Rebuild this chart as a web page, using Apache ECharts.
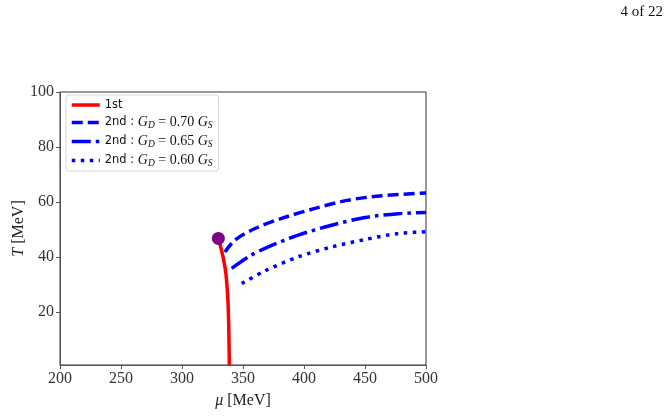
<!DOCTYPE html>
<html>
<head>
<meta charset="utf-8">
<script src="https://cdn.jsdelivr.net/npm/echarts@6/dist/echarts.min.js"></script>
<style>
  html, body { margin: 0; padding: 0; background: #fff; }
  #main { width: 671px; height: 417px; }
</style>
</head>
<body>
<div id="main"></div>
<script>
// 1st order line (mu, T)
var firstMu = [329.8, 331.5, 333.9, 336.1, 337.7, 338.3, 338.6, 338.8];
var firstT  = [46.8, 44.0, 39.5, 33.5, 23.7, 15.0, 7.0, 0.8];

// 2nd order lines
var mu070 = [335.2, 343.4, 359.8, 381.7, 409.0, 436.3, 463.7, 500.0];
var t070  = [41.9, 46.2, 50.4, 54.1, 57.7, 60.7, 62.3, 63.3];
var mu065 = [340.7, 354.4, 368.0, 395.3, 422.7, 450.0, 477.3, 500.0];
var t065  = [35.9, 40.1, 43.2, 48.0, 51.6, 54.4, 55.8, 56.2];
var mu060 = [348.9, 368.0, 395.3, 422.7, 450.0, 477.3, 500.0];
var t060  = [30.4, 35.0, 40.1, 43.7, 46.4, 48.6, 49.2];

// critical end point
var cepMu = 329.8;
var cepT = 46.8;

var xTicks = [200, 250, 300, 350, 400, 450, 500];
var yTicks = [20, 40, 60, 80, 100];

var names = ['1st', '2nd : GD = 0.70 GS', '2nd : GD = 0.65 GS', '2nd : GD = 0.60 GS'];
var ratios = [null, '0.70', '0.65', '0.60'];

function pairs(xs, ys) {
    return xs.map(function (x, i) { return [x, ys[i]]; });
}

var serif = 'Liberation Serif';
var myEcharts = echarts.init(document.getElementById('main'));

var option = {
    animation: false,
    grid: {
        left: 60, right: 245, top: 92, bottom: 52,
        outerBoundsMode: 'none', containLabel: false,
        show: true, borderColor: '#333', borderWidth: 1
    },
    graphic: [{
        type: 'text', right: 8, top: 5,
        style: { text: '4 of 22', font: '15px "Liberation Serif"', fill: '#111' }
    }],
    legend: {
        orient: 'vertical', left: 66, top: 95,
        data: names,
        itemWidth: 28, itemHeight: 12, itemGap: 4.5,
        padding: [4, 6, 3, 4],
        borderColor: '#d8d8d8', borderWidth: 1, borderRadius: 3,
        itemStyle: { color: 'transparent', borderWidth: 0, opacity: 0 },
        lineStyle: { width: 3.5 },
        formatter: function (name) {
            var i = names.indexOf(name);
            if (i === 0) return '{s|1st}';
            return '{s|2nd : }{i|G}{sub|D}{r| = ' + ratios[i] + ' }{i|G}{sub|S}';
        },
        textStyle: {
            rich: {
                s: { fontFamily: 'DejaVu Sans', fontSize: 11.5, color: '#111', lineHeight: 15 },
                i: { fontFamily: serif, fontStyle: 'italic', fontSize: 14, color: '#111', lineHeight: 15 },
                r: { fontFamily: serif, fontSize: 14, color: '#111', lineHeight: 15 },
                sub: { fontFamily: serif, fontStyle: 'italic', fontSize: 9.5, color: '#111', verticalAlign: 'bottom', lineHeight: 11 }
            }
        }
    },
    xAxis: {
        type: 'value', min: 200, max: 500, interval: 50,
        name: '{i|μ} [MeV]', nameLocation: 'middle', nameGap: 28, nameMoveOverlap: false,
        nameTextStyle: {
            fontFamily: serif, fontSize: 16, color: '#222',
            rich: { i: { fontFamily: serif, fontStyle: 'italic', fontSize: 16, color: '#222' } }
        },
        axisLine: { lineStyle: { color: '#555', width: 1 } },
        axisTick: { show: true, length: 4, lineStyle: { color: '#555' } },
        axisLabel: { fontFamily: serif, fontSize: 16, color: '#333', margin: 6, showMinLabel: true, showMaxLabel: true },
        splitLine: { show: false }
    },
    yAxis: {
        type: 'value', min: 0.8, max: 100,
        name: '{i|T} [MeV]', nameLocation: 'middle', nameGap: 33, nameMoveOverlap: false,
        nameTextStyle: {
            fontFamily: serif, fontSize: 16, color: '#222',
            rich: { i: { fontFamily: serif, fontStyle: 'italic', fontSize: 16, color: '#222' } }
        },
        axisLine: { show: true, lineStyle: { color: '#555', width: 1 } },
        axisTick: { show: true, length: 4, lineStyle: { color: '#555' }, customValues: yTicks },
        axisLabel: { fontFamily: serif, fontSize: 16, color: '#333', margin: 6, customValues: yTicks },
        splitLine: { show: false }
    },
    series: [
        {
            name: names[0], type: 'line', smooth: 0.3, symbol: 'none',
            lineStyle: { color: '#ff0000', width: 3.5 }, itemStyle: { color: '#ff0000' },
            data: pairs(firstMu, firstT)
        },
        {
            name: names[1], type: 'line', smooth: 0.3, symbol: 'none',
            lineStyle: { color: '#0000ff', width: 3.5, type: [11, 5] }, itemStyle: { color: '#0000ff' },
            data: pairs(mu070, t070)
        },
        {
            name: names[2], type: 'line', smooth: 0.3, symbol: 'none',
            lineStyle: { color: '#0000ff', width: 3.5, type: [19, 5, 3.5, 5] }, itemStyle: { color: '#0000ff' },
            data: pairs(mu065, t065)
        },
        {
            name: names[3], type: 'line', smooth: 0.3, symbol: 'none',
            lineStyle: { color: '#0000ff', width: 3.5, type: [3.5, 5.5] }, itemStyle: { color: '#0000ff' },
            data: pairs(mu060, t060)
        },
        {
            name: 'CEP', type: 'scatter', symbolSize: 13, z: 5,
            itemStyle: { color: '#800080', opacity: 1 },
            data: [[cepMu, cepT]]
        }
    ]
};
myEcharts.setOption(option);
</script>
</body>
</html>
